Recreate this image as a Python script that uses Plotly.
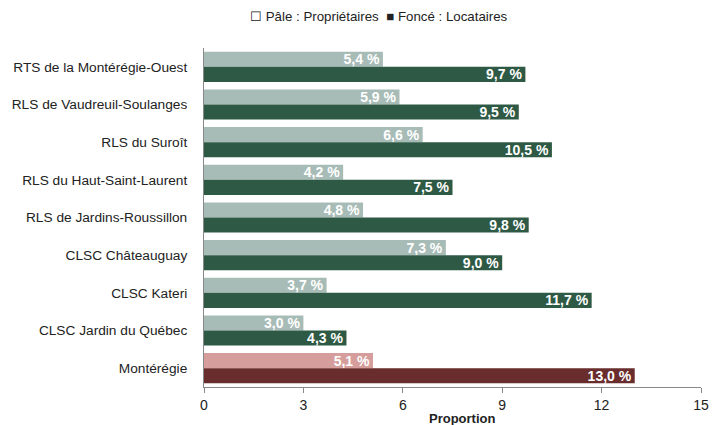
import plotly.graph_objects as go

categories = [
    "RTS de la Montérégie-Ouest",
    "RLS de Vaudreuil-Soulanges",
    "RLS du Suroît",
    "RLS du Haut-Saint-Laurent",
    "RLS de Jardins-Roussillon",
    "CLSC Châteauguay",
    "CLSC Kateri",
    "CLSC Jardin du Québec",
    "Montérégie",
]
proprietaires = [5.4, 5.9, 6.6, 4.2, 4.8, 7.3, 3.7, 3.0, 5.1]
locataires = [9.7, 9.5, 10.5, 7.5, 9.8, 9.0, 11.7, 4.3, 13.0]
x_ticks = [0, 3, 6, 9, 12, 15]

pale_colors = ["#a8bcb7"] * 8 + ["#d59d9b"]
dark_colors = ["#2e5945"] * 8 + ["#692d2d"]

FONT = "Liberation Sans, Arial"

fig = go.Figure()
for vals, cols, name in [(proprietaires, pale_colors, "Propriétaires"),
                         (locataires, dark_colors, "Locataires")]:
    fig.add_trace(go.Bar(
        y=categories, x=vals, orientation="h", name=name,
        marker=dict(color=cols, line=dict(width=0)),
        texttemplate="%{x:.1f} %", textposition="inside", insidetextanchor="end",
        constraintext="none",
        textfont=dict(color="white", size=14, family=FONT, weight="bold"),
    ))

fig.update_layout(
    width=715, height=417,
    margin=dict(l=196, r=22, t=40, b=38),
    barmode="group", bargap=0.2, bargroupgap=0,
    separators=", ",
    showlegend=False,
    plot_bgcolor="white", paper_bgcolor="white",
    font=dict(family=FONT, size=14, color="#222"),
)
fig.update_xaxes(
    range=[0, 15], tickvals=x_ticks, showgrid=False, zeroline=False,
    showline=True, linecolor="#888", linewidth=1,
    ticks="outside", ticklen=5, tickcolor="#888",
    tickfont=dict(size=14, color="#222"), automargin=False,
)
fig.update_yaxes(
    autorange="reversed", showgrid=False, showline=True, linecolor="#888",
    linewidth=1, ticks="", ticklabelstandoff=13, automargin=False,
    tickfont=dict(size=13.7, color="#222"),
)
fig.add_annotation(
    text="☐ Pâle : Propriétaires  ■ Foncé : Locataires",
    xref="paper", yref="paper", x=0.5, y=1, yshift=41, xanchor="center", yanchor="top",
    showarrow=False, font=dict(size=13.3, color="#222", family=FONT),
    xshift=-74,
)
fig.add_annotation(
    text="<b>Proportion</b>",
    xref="paper", yref="paper", x=0.5, y=0, yshift=-31, xanchor="center", yanchor="middle",
    showarrow=False, font=dict(size=13, color="#222", family=FONT),
    xshift=9,
)

fig.write_html("out.html")
